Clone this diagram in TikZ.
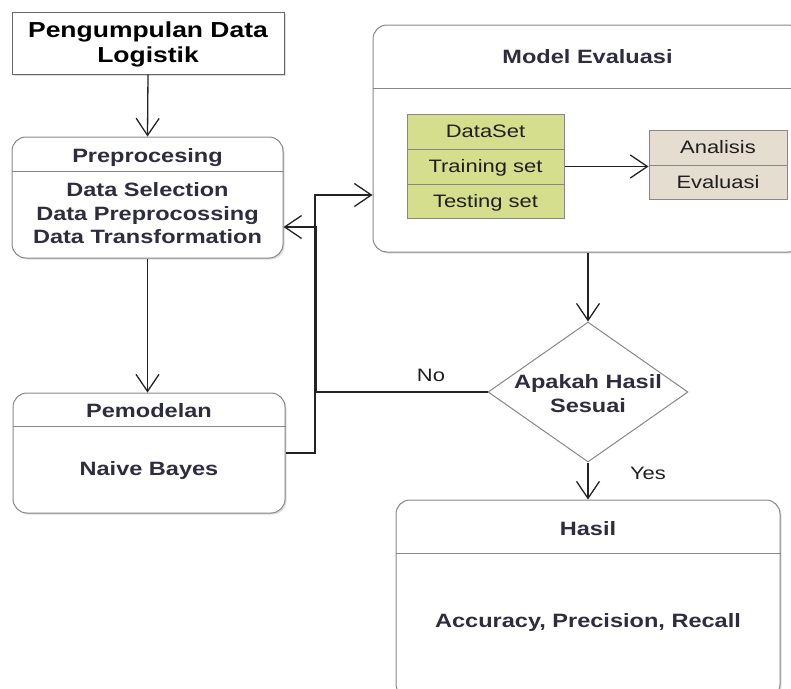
\documentclass[tikz,border=0pt]{standalone}
\usepackage{fontspec}
\setmainfont[FakeStretch=1.22]{Liberation Sans}
\usetikzlibrary{arrows.meta,shapes.geometric,shadows}
\definecolor{txt}{RGB}{45,45,62}
\definecolor{bordc}{RGB}{135,135,135}
\definecolor{linec}{RGB}{35,35,35}
\definecolor{dsfill}{RGB}{212,222,140}
\definecolor{anfill}{RGB}{229,222,208}
\tikzset{
  shad/.style={drop shadow={shadow xshift=1.5pt,shadow yshift=-1.5pt,fill=black!28}},
  box/.style={draw=bordc, line width=1pt, fill=white, rounded corners=14pt, shad, inner sep=0pt},
  sep/.style={draw=bordc, line width=1pt},
  hdr/.style={font=\fontsize{19.3}{23.5}\selectfont\bfseries, text=txt, align=center, inner sep=0pt},
  reg/.style={font=\fontsize{18}{22}\selectfont, text=black!88, inner sep=0pt},
  row/.style={draw=bordc, line width=1pt, font=\fontsize{18}{22}\selectfont, text=black!88,
              text height=12.9pt, text depth=0pt, inner sep=0pt},
  conn/.style={draw=linec, line width=1.3pt, -{Straight Barb[length=17pt,width=23pt]}}
}
\begin{document}
\begin{tikzpicture}[x=1pt,y=-1pt]
\useasboundingbox (0,0) rectangle (791,688);
\clip (0,0) rectangle (791,688);

% top box
\node[draw=black!60, line width=1pt, fill=white, shad, minimum width=272pt, minimum height=62pt,
      font=\fontsize{21.7}{25}\selectfont\bfseries, align=center, inner sep=0pt] (pdl) at (148,43) {};
\node[font=\fontsize{21.7}{25}\selectfont\bfseries, align=center, inner sep=0pt] (pdlT) at (148,44.5) {Pengumpulan Data\\Logistik};

% Preprocesing
\node[box, minimum width=271pt, minimum height=121pt] (pre) at (147.5,197.5) {};
\draw[sep] (pre.west |- 0,171) -- (pre.east |- 0,171);
\node[hdr, anchor=base] (preT) at (147.5,162) {Preprocesing};
\node[hdr] (preB) at (147.5,213.5) {Data Selection\\Data Preprocossing\\Data Transformation};

% Pemodelan
\node[box, minimum width=272pt, minimum height=120pt] (pem) at (149,453) {};
\draw[sep] (pem.west |- 0,426) -- (pem.east |- 0,426);
\node[hdr, anchor=base] (pemT) at (149,417) {Pemodelan};
\node[hdr, anchor=base] (pemB) at (149,475) {Naive Bayes};

% Model Evaluasi
\node[box, minimum width=429pt, minimum height=227pt] (me) at (587.5,138.5) {};
\draw[sep] (me.west |- 0,88) -- (me.east |- 0,88);
\node[hdr, anchor=base] (meT) at (587.5,63) {Model Evaluasi};

\node[row, fill=dsfill, minimum width=157pt, minimum height=35pt] (ds1) at (485.5,131.5) {DataSet};
\node[row, fill=dsfill, minimum width=157pt, minimum height=35pt] (ds2) at (485.5,166.5) {Training set};
\node[row, fill=dsfill, minimum width=157pt, minimum height=34pt] (ds3) at (485.5,201) {Testing set};

\node[row, fill=anfill, minimum width=138pt, minimum height=35pt] (an1) at (718,147.5) {Analisis};
\node[row, fill=anfill, minimum width=138pt, minimum height=34pt] (an2) at (718,182) {Evaluasi};

% Decision
\node[diamond, draw=bordc, line width=1pt, fill=white, minimum width=200pt, minimum height=140pt, inner sep=0pt] (dia) at (588,392) {};
\node[hdr] (diaT) at (588,393.5) {Apakah Hasil\\Sesuai};

% Hasil
\node[box, minimum width=384pt, minimum height=198pt] (has) at (588,599) {};
\draw[sep] (has.west |- 0,553) -- (has.east |- 0,553);
\node[hdr, anchor=base] (hasT) at (588,535) {Hasil};
\node[hdr, anchor=base] (hasB) at (588,627) {Accuracy, Precision, Recall};

% labels
\node[reg, anchor=base] (no) at (431,381.5) {No};
\node[reg, anchor=base] (yes) at (648,479.5) {Yes};

% connectors
\coordinate (j1) at (315,195);
\coordinate (j2) at (316.5,227);
\draw[conn] (pdl.south) -- (pre.north);
\draw[conn] (pre.south) -- (pre.south |- pem.north);
\draw[conn] (pem.east) -| (j1) -- (j1 -| me.west);
\draw[conn] (dia.west) -| (j2) -- (j2 -| pre.east);
\draw[conn] (ds2.east) -- (ds2.east -| an1.west);
\draw[conn] (dia.north |- me.south) -- (dia.north);
\draw[conn] (dia.south) -- (has.north);
\end{tikzpicture}
\end{document}
